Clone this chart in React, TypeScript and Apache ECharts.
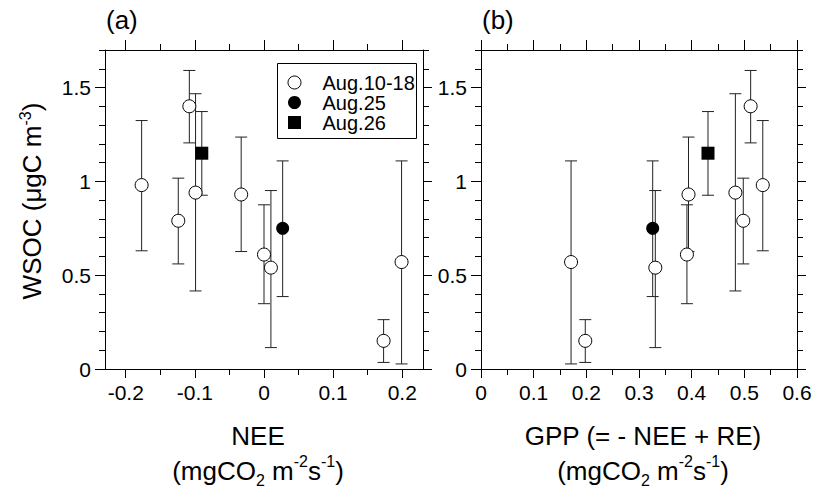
import React, { useEffect, useRef } from "react";
import * as echarts from "echarts";

// ---------- data ----------
const seriesNames = ["Aug.10-18", "Aug.25", "Aug.26"];

// Aug.10-18 (open circles)
const neeOpen = [-0.177, -0.124, -0.108, -0.099, -0.033, 0.0, 0.01, 0.173, 0.199];
const gppOpen = [0.535, 0.498, 0.512, 0.483, 0.394, 0.391, 0.331, 0.198, 0.171];
const wsocOpen = [0.98, 0.79, 1.4, 0.94, 0.93, 0.61, 0.54, 0.15, 0.57];
const wsocOpenLow = [0.63, 0.56, 1.205, 0.416, 0.626, 0.348, 0.114, 0.035, 0.027];
const wsocOpenHigh = [1.324, 1.017, 1.591, 1.467, 1.236, 0.875, 0.951, 0.263, 1.109];

// Aug.25 (filled circle)
const nee25 = [0.027];
const gpp25 = [0.326];
const wsoc25 = [0.75];
const wsoc25Low = [0.386];
const wsoc25High = [1.109];

// Aug.26 (filled square)
const nee26 = [-0.09];
const gpp26 = [0.431];
const wsoc26 = [1.15];
const wsoc26Low = [0.926];
const wsoc26High = [1.372];

// ticks
const yMajor = [0, 0.5, 1, 1.5];
const yMinor = [0.1, 0.2, 0.3, 0.4, 0.6, 0.7, 0.8, 0.9, 1.1, 1.2, 1.3, 1.4, 1.6, 1.7];
const neeMajor = [-0.2, -0.1, 0, 0.1, 0.2];
const neeMinor = [-0.15, -0.05, 0.05, 0.15];
const gppMajor = [0, 0.1, 0.2, 0.3, 0.4, 0.5, 0.6];
const gppMinor = [0.05, 0.15, 0.25, 0.35, 0.45, 0.55];

const FONT = "'Liberation Sans', Arial, Helvetica, sans-serif";

const pts = (xs: number[], ys: number[]) => xs.map((x, i) => [x, ys[i]]);
const bars = (xs: number[], lo: number[], hi: number[]) => xs.map((x, i) => [x, lo[i], hi[i]]);

const unitRich = {
  sub: { fontSize: 16, lineHeight: 17, verticalAlign: "bottom", fontFamily: FONT, color: "#000" },
  sup: { fontSize: 16, lineHeight: 24, verticalAlign: "top", fontFamily: FONT, color: "#000" },
};

function makeXAxes(gridIndex: number, min: number, max: number, major: number[], minor: number[], name: string, pad: number[]) {
  const base: any = {
    type: "value",
    gridIndex,
    min,
    max,
    splitLine: { show: false },
    axisLine: { show: true, onZero: false, lineStyle: { color: "#000", width: 1 } },
  };
  const tick = (vals: number[], len: number) => ({ show: true, customValues: vals, length: len, lineStyle: { color: "#000", width: 1 } });
  return [
    {
      ...base,
      position: "bottom",
      name,
      nameLocation: "middle",
      nameGap: 49,
      nameTextStyle: {
        fontSize: 26,
        lineHeight: 35,
        color: "#000",
        fontFamily: FONT,
        padding: pad,
        rich: unitRich,
      },
      axisTick: tick(major, 9),
      axisLabel: { show: true, customValues: major, fontSize: 21, color: "#000", fontFamily: FONT, margin: 13 },
    },
    { ...base, position: "bottom", axisLine: { show: false, onZero: false }, axisTick: tick(minor, 6), axisLabel: { show: false } },
    { ...base, position: "top", axisTick: tick(major, 10), axisLabel: { show: false } },
    { ...base, position: "top", axisLine: { show: false, onZero: false }, axisTick: tick(minor, 6), axisLabel: { show: false } },
  ];
}

function makeYAxes(gridIndex: number, withName: boolean) {
  const base: any = {
    type: "value",
    gridIndex,
    min: 0,
    max: 1.7,
    splitLine: { show: false },
    axisLine: { show: true, onZero: false, lineStyle: { color: "#000", width: 1 } },
  };
  const tick = (vals: number[], len: number) => ({ show: true, customValues: vals, length: len, lineStyle: { color: "#000", width: 1 } });
  const main: any = {
    ...base,
    position: "left",
    axisTick: tick(yMajor, 10),
    axisLabel: { show: true, customValues: yMajor, fontSize: 21, color: "#000", fontFamily: FONT, margin: 14 },
  };
  if (withName) {
    Object.assign(main, {
      name: "WSOC (μgC m{sup|-3})",
      nameLocation: "middle",
      nameRotate: 90,
      nameGap: 58,
      nameTextStyle: {
        fontSize: 26,
        lineHeight: 30,
        color: "#000",
        fontFamily: FONT,
        padding: [0, 0, 0, 17],
        rich: { sup: { fontSize: 16, lineHeight: 19, verticalAlign: "top", fontFamily: FONT, color: "#000" } },
      },
    });
  }
  return [
    main,
    { ...base, position: "left", axisLine: { show: false, onZero: false }, axisTick: tick(yMinor, 6), axisLabel: { show: false } },
    { ...base, position: "right", axisTick: tick(yMajor, 9), axisLabel: { show: false } },
    { ...base, position: "right", axisLine: { show: false, onZero: false }, axisTick: tick(yMinor, 6), axisLabel: { show: false } },
  ];
}

const errorRender = (params: any, api: any) => {
  const x = api.value(0);
  const pLo = api.coord([x, api.value(1)]);
  const pHi = api.coord([x, api.value(2)]);
  const h = 6;
  const style = { stroke: "#222", lineWidth: 1, fill: null };
  return {
    type: "group",
    children: [
      { type: "line", shape: { x1: pLo[0], y1: pLo[1], x2: pHi[0], y2: pHi[1] }, style },
      { type: "line", shape: { x1: pHi[0] - h, y1: pHi[1], x2: pHi[0] + h, y2: pHi[1] }, style },
      { type: "line", shape: { x1: pLo[0] - h, y1: pLo[1], x2: pLo[0] + h, y2: pLo[1] }, style },
    ],
  };
};

function panelSeries(xIdx: number, yIdx: number, xOpen: number[], x25: number[], x26: number[]) {
  const errSeries = (data: number[][]) => ({
    type: "custom",
    xAxisIndex: xIdx,
    yAxisIndex: yIdx,
    renderItem: errorRender,
    encode: { x: 0, y: [1, 2] },
    data,
    z: 1,
    silent: true,
  });
  const sc = (name: string, data: number[][], symbol: string, itemStyle: any) => ({
    type: "scatter",
    name,
    xAxisIndex: xIdx,
    yAxisIndex: yIdx,
    symbol,
    symbolSize: 13,
    itemStyle,
    data,
    z: 3,
  });
  return [
    errSeries(bars(xOpen, wsocOpenLow, wsocOpenHigh)),
    errSeries(bars(x25, wsoc25Low, wsoc25High)),
    errSeries(bars(x26, wsoc26Low, wsoc26High)),
    sc(seriesNames[0], pts(xOpen, wsocOpen), "circle", { color: "#fff", borderColor: "#000", borderWidth: 1, opacity: 1 }),
    sc(seriesNames[1], pts(x25, wsoc25), "circle", { color: "#000", borderColor: "#000", borderWidth: 0, opacity: 1 }),
    sc(seriesNames[2], pts(x26, wsoc26), "rect", { color: "#000", borderColor: "#000", borderWidth: 0, opacity: 1 }),
  ];
}

export default function App() {
  const ref = useRef<HTMLDivElement>(null);
  useEffect(() => {
    if (!ref.current) return;
    const chart = echarts.init(ref.current, undefined, { renderer: "svg" });
    const unit = "(mgCO{sub|2} m{sup|-2}s{sup|-1})";
    const option: any = {
      animation: false,
      backgroundColor: "#fff",
      textStyle: { fontFamily: FONT, color: "#000" },
      grid: [
        { left: 105, top: 50, width: 318, height: 319, containLabel: false, outerBoundsMode: "none" },
        { left: 481, top: 50, width: 316, height: 319, containLabel: false, outerBoundsMode: "none" },
      ],
      xAxis: [
        ...makeXAxes(0, -0.23, 0.23, neeMajor, neeMinor, "NEE\n" + unit, [0, 12, 0, 0]),
        ...makeXAxes(1, 0, 0.6, gppMajor, gppMinor, "GPP (= - NEE + RE)\n" + unit, [0, 0, 0, 8]),
      ],
      yAxis: [...makeYAxes(0, true), ...makeYAxes(1, false)],
      legend: {
        show: true,
        orient: "vertical",
        left: 287.5,
        top: 72.5,
        padding: 0,
        itemGap: 0,
        itemWidth: 46,
        itemHeight: 13,
        symbolKeepAspect: true,
        borderWidth: 0,
        selectedMode: false,
        textStyle: { fontSize: 20, lineHeight: 19, color: "#000", fontFamily: FONT },
        data: [
          { name: seriesNames[0], icon: "circle", itemStyle: { color: "#fff", borderColor: "#000", borderWidth: 1 } },
          { name: seriesNames[1], icon: "circle", itemStyle: { color: "#000" } },
          { name: seriesNames[2], icon: "path://M0 0H10V10H0Z", itemStyle: { color: "#000" } },
        ],
      },
      graphic: [
        {
          type: "rect",
          shape: { x: 277.5, y: 63.5, width: 139, height: 75 },
          style: { fill: "none", stroke: "#000", lineWidth: 1 },
          z: 0,
        },
        {
          type: "text",
          x: 106,
          y: 20,
          style: { text: "(a)", fontSize: 26, fontFamily: FONT, fill: "#000", verticalAlign: "middle" },
        },
        {
          type: "text",
          x: 482,
          y: 20,
          style: { text: "(b)", fontSize: 26, fontFamily: FONT, fill: "#000", verticalAlign: "middle" },
        },
      ],
      series: [
        ...panelSeries(0, 0, neeOpen, nee25, nee26),
        ...panelSeries(4, 4, gppOpen, gpp25, gpp26),
      ],
    };
    chart.setOption(option);
    return () => chart.dispose();
  }, []);
  return <div ref={ref} style={{ position: "absolute", left: 0, top: 0, width: 815, height: 489, background: "#fff" }} />;
}
